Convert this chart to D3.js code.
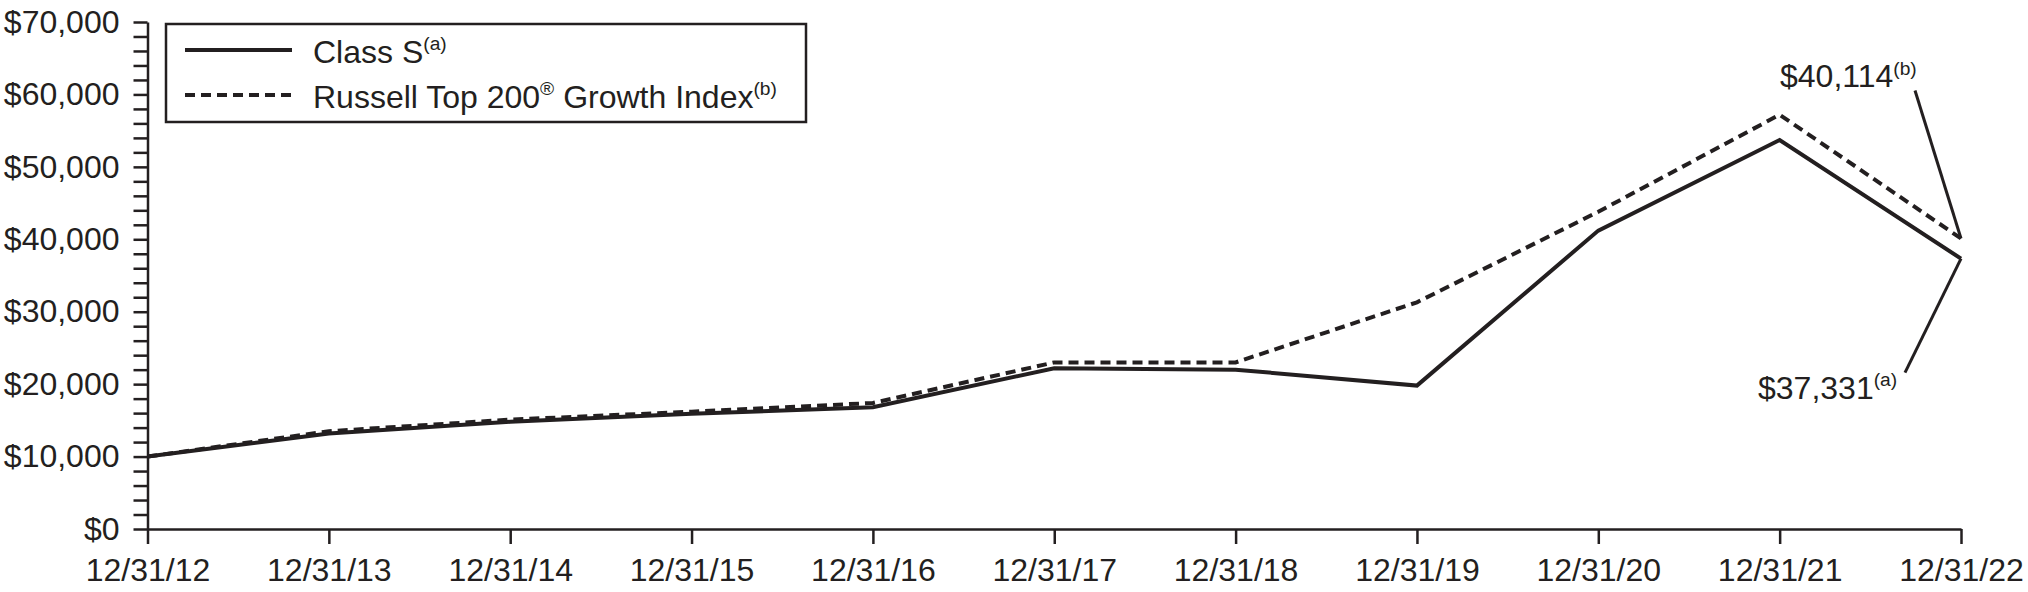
<!DOCTYPE html>
<html>
<head>
<meta charset="utf-8">
<script src="https://cdn.jsdelivr.net/npm/d3@7"></script>
<style>
  html, body { margin: 0; padding: 0; background: #fff; }
  svg text { font-family: "Liberation Sans", Arial, Helvetica, sans-serif; fill: #231f20; }
</style>
</head>
<body>
<div id="chart"></div>
<script>
// values (growth of $10,000)
const dates = ["12/31/12", "12/31/13", "12/31/14", "12/31/15", "12/31/16", "12/31/17",
               "12/31/18", "12/31/19", "12/31/20", "12/31/21", "12/31/22"];
const classS = [10000, 13200, 14800, 15900, 16800, 22200, 22000, 19800, 41200, 53700, 37331];
const russellIndex = [10000, 13500, 15100, 16200, 17400, 23000, 23000, 31300, 43800, 57200, 40114];
const yTicks = d3.range(0, 70001, 2000);

const width = 2028, height = 592;
const margin = { top: 22, right: 67, bottom: 63, left: 147.5 };
const ink = "#231f20";

const svg = d3.select("#chart").append("svg")
    .attr("width", width)
    .attr("height", height);

const x = d3.scalePoint()
    .domain(dates)
    .range([margin.left, width - margin.right]);

const y = d3.scaleLinear()
    .domain([0, 70000])
    .range([height - margin.bottom, margin.top]);

const fmt = d3.format(",");

// y axis - minor ticks every $2,000, labels every $10,000
const yAxis = svg.append("g")
    .attr("transform", `translate(${margin.left},0)`)
    .call(d3.axisLeft(y)
        .tickValues(yTicks)
        .tickSize(14)
        .tickSizeOuter(0)
        .tickPadding(14)
        .tickFormat(d => d % 10000 === 0 ? "$" + fmt(d) : ""));

// x axis
const xAxis = svg.append("g")
    .attr("transform", `translate(0,${y(0)})`)
    .call(d3.axisBottom(x)
        .tickSize(15)
        .tickSizeOuter(0)
        .tickPadding(14));

[yAxis, xAxis].forEach(g => {
    g.select(".domain").attr("stroke", ink).attr("stroke-width", 2.5);
    g.selectAll(".tick line").attr("stroke", ink).attr("stroke-width", 2.5);
    g.selectAll(".tick text")
        .attr("font-size", 32)
        .attr("font-family", "Liberation Sans, Arial, sans-serif")
        .attr("fill", ink);
});

// series lines
const line = d3.line()
    .x((d, i) => x(dates[i]))
    .y(d => y(d));

svg.append("path")
    .datum(russellIndex)
    .attr("fill", "none")
    .attr("stroke", ink)
    .attr("stroke-width", 4)
    .attr("stroke-dasharray", "10,6")
    .attr("d", line);

svg.append("path")
    .datum(classS)
    .attr("fill", "none")
    .attr("stroke", ink)
    .attr("stroke-width", 4)
    .attr("stroke-linejoin", "miter")
    .attr("d", line);

// helper: text with a superscript footnote marker
function labelWithSup(g, tx, ty, parts, size) {
    const t = g.append("text")
        .attr("x", tx)
        .attr("y", ty)
        .attr("font-size", size);
    let raised = false;
    parts.forEach(p => {
        const span = t.append("tspan").text(p.text);
        if (p.sup && !raised) {
            span.attr("font-size", size * 0.6).attr("dy", -size * 0.4);
            raised = true;
        } else if (!p.sup && raised) {
            span.attr("dy", size * 0.4);
            raised = false;
        } else if (p.sup) {
            span.attr("font-size", size * 0.6);
        }
    });
    return t;
}

// legend
const legend = svg.append("g");
legend.append("rect")
    .attr("x", 166)
    .attr("y", 24)
    .attr("width", 640)
    .attr("height", 98)
    .attr("fill", "#fff")
    .attr("stroke", ink)
    .attr("stroke-width", 2.5);

const legendItems = [
    { parts: [{ text: "Class S" }, { text: "(a)", sup: true }], dash: null },
    { parts: [{ text: "Russell Top 200" }, { text: "®", sup: true }, { text: " Growth Index" }, { text: "(b)", sup: true }], dash: "10,6" }
];

legendItems.forEach((item, i) => {
    const cy = 50 + i * 45;
    legend.append("line")
        .attr("x1", 185).attr("x2", 292)
        .attr("y1", cy).attr("y2", cy)
        .attr("stroke", ink)
        .attr("stroke-width", 4)
        .attr("stroke-dasharray", item.dash);
    labelWithSup(legend, 313, cy + 13, item.parts, 32);
});

// end-value callouts
const last = dates.length - 1;
const ex = x(dates[last]);

const notes = [
    { value: russellIndex[last], tag: "(b)", tx: ex - 181, ty: y(russellIndex[last]) - 151, lx: ex - 46, ly: y(russellIndex[last]) - 148 },
    { value: classS[last], tag: "(a)", tx: ex - 203, ty: y(classS[last]) + 140, lx: ex - 56, ly: y(classS[last]) + 114 }
];

notes.forEach(n => {
    svg.append("line")
        .attr("x1", n.lx).attr("y1", n.ly)
        .attr("x2", ex).attr("y2", y(n.value))
        .attr("stroke", ink)
        .attr("stroke-width", 3);
    labelWithSup(svg, n.tx, n.ty, [{ text: "$" + fmt(n.value) }, { text: n.tag, sup: true }], 32);
});
</script>
</body>
</html>
